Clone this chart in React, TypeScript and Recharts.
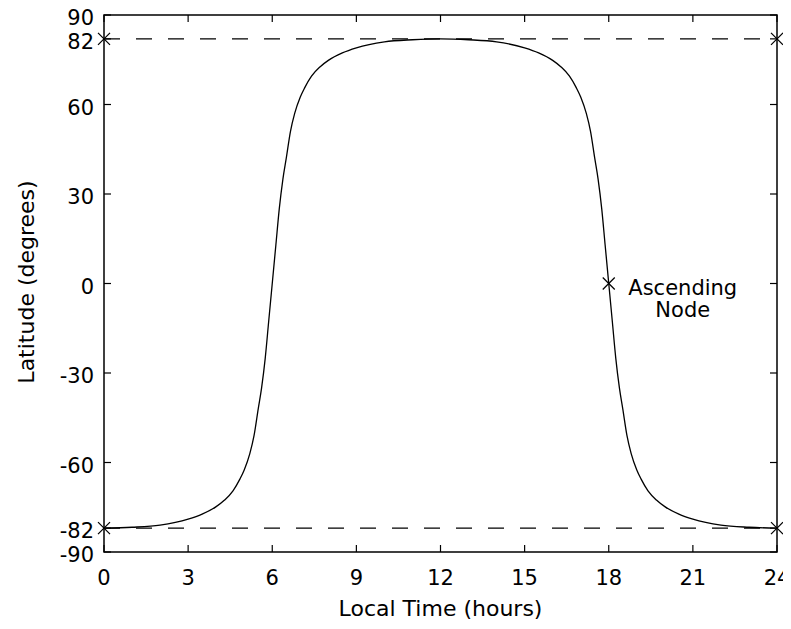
import { ComposedChart, Line, Scatter, XAxis, YAxis, ReferenceLine, ReferenceArea, ReferenceDot } from 'recharts'

// latitude of the ground track against local time
const hours = [
  0, 1, 2, 3, 3.5, 4, 4.3, 4.6, 4.85, 5.0, 5.2, 5.35, 5.5, 5.62, 5.75, 5.87,
  6, 6.13, 6.25, 6.38, 6.5, 6.65, 6.8, 7.0, 7.15, 7.4, 7.7, 8, 8.5, 9, 10, 11,
  12, 13, 14, 15, 15.5, 16, 16.3, 16.6, 16.85, 17, 17.2, 17.35, 17.5, 17.62, 17.75, 17.87,
  18, 18.13, 18.25, 18.38, 18.5, 18.65, 18.8, 19, 19.15, 19.4, 19.7, 20, 20.5, 21, 22, 23, 24,
]
const latitudes = [
  -82, -81.7, -81, -79, -77.3, -74.8, -72.6, -69.5, -65.5, -62.5, -57, -51, -42, -35, -25, -13,
  0, 13, 25, 35, 42, 51, 57, 62.5, 65.5, 69.5, 72.6, 74.8, 77.3, 79, 81, 81.7,
  82, 81.7, 81, 79, 77.3, 74.8, 72.6, 69.5, 65.5, 62.5, 57, 51, 42, 35, 25, 13,
  0, -13, -25, -35, -42, -51, -57, -62.5, -65.5, -69.5, -72.6, -74.8, -77.3, -79, -81, -81.7, -82,
]

const markerHours = [0, 0, 24, 24, 18]
const markerLats = [82, -82, 82, -82, 0]

const xTicks = [0, 3, 6, 9, 12, 15, 18, 21, 24]
const yTicks = [-90, -82, -60, -30, 0, 30, 60, 82, 90]
const limitLats = [82, -82]

const curve = hours.map((t, i) => ({ t, lat: latitudes[i] }))
const markers = markerHours.map((t, i) => ({ t, lat: markerLats[i] }))

const W = 783
const H = 612
const PL = 96
const PT = 7
const PR = 769
const PB = 544
const FONT = '"DejaVu Sans", sans-serif'

function XMark({ cx, cy }: { cx?: number; cy?: number }) {
  if (cx == null || cy == null) return null
  const s = 6
  return (
    <g stroke="#000" strokeWidth={1.2}>
      <line x1={cx - s} y1={cy - s} x2={cx + s} y2={cy + s} />
      <line x1={cx - s} y1={cy + s} x2={cx + s} y2={cy - s} />
    </g>
  )
}

function XTick({ x, payload }: any) {
  return (
    <g>
      <line x1={x} y1={PB} x2={x} y2={PB - 7} stroke="#000" strokeWidth={1.2} />
      <line x1={x} y1={PT} x2={x} y2={PT + 7} stroke="#000" strokeWidth={1.2} />
      <text x={x} y={PB + 33} textAnchor="middle" fontSize={21} fontFamily={FONT} fill="#000">
        {payload.value}
      </text>
    </g>
  )
}

function YTick({ y, payload }: any) {
  return (
    <g>
      <line x1={PL} y1={y} x2={PL + 7} y2={y} stroke="#000" strokeWidth={1.2} />
      <line x1={PR} y1={y} x2={PR - 7} y2={y} stroke="#000" strokeWidth={1.2} />
      <text x={PL - 10} y={y + 10} textAnchor="end" fontSize={21} fontFamily={FONT} fill="#000">
        {payload.value}
      </text>
    </g>
  )
}

function NodeLabel({ viewBox }: any) {
  const cx = viewBox.x + viewBox.width / 2
  const cy = viewBox.y + viewBox.height / 2
  return (
    <g fontSize={21} fontFamily={FONT} fill="#000" textAnchor="middle">
      <text x={cx + 74} y={cy + 11}>Ascending</text>
      <text x={cx + 74} y={cy + 33}>Node</text>
    </g>
  )
}

export default function App() {
  return (
    <>
      <style>{'svg.recharts-surface{overflow:visible}'}</style>
      <ComposedChart
        width={W}
        height={H}
        data={curve}
        margin={{ top: PT, right: W - PR, left: 36, bottom: 0 }}
        style={{ fontFamily: FONT }}
      >
        <XAxis
          dataKey="t"
          type="number"
          domain={[0, 24]}
          ticks={xTicks}
          interval={0}
          height={H - PB}
          axisLine={false}
          tickLine={false}
          tick={<XTick />}
          label={{
            content: () => (
              <text x={(PL + PR) / 2} y={608} textAnchor="middle" fontSize={22} fontFamily={FONT} fill="#000">
                Local Time (hours)
              </text>
            ),
          }}
        />
        <YAxis
          type="number"
          domain={[-90, 90]}
          ticks={yTicks}
          interval={0}
          width={60}
          axisLine={false}
          tickLine={false}
          tick={<YTick />}
          label={{
            content: () => (
              <text
                x={26}
                y={274}
                transform="rotate(-90 26 274)"
                textAnchor="middle"
                fontSize={22}
                fontFamily={FONT}
                fill="#000"
              >
                Latitude (degrees)
              </text>
            ),
          }}
        />
        <ReferenceArea x1={0} x2={24} y1={-90} y2={90} fill="none" stroke="#000" strokeWidth={1.5} />
        {limitLats.map((v) => (
          <ReferenceLine key={v} y={v} stroke="#000" strokeWidth={1.2} strokeDasharray="16 16" />
        ))}
        <Line
          dataKey="lat"
          type="monotone"
          stroke="#000"
          strokeWidth={1.3}
          dot={false}
          activeDot={false}
          isAnimationActive={false}
        />
        <Scatter data={markers} dataKey="lat" shape={(p: any) => <XMark cx={p.cx} cy={p.cy} />} isAnimationActive={false} />
        <ReferenceDot x={18} y={0} r={1} fill="none" stroke="none" label={<NodeLabel />} />
      </ComposedChart>
    </>
  )
}
